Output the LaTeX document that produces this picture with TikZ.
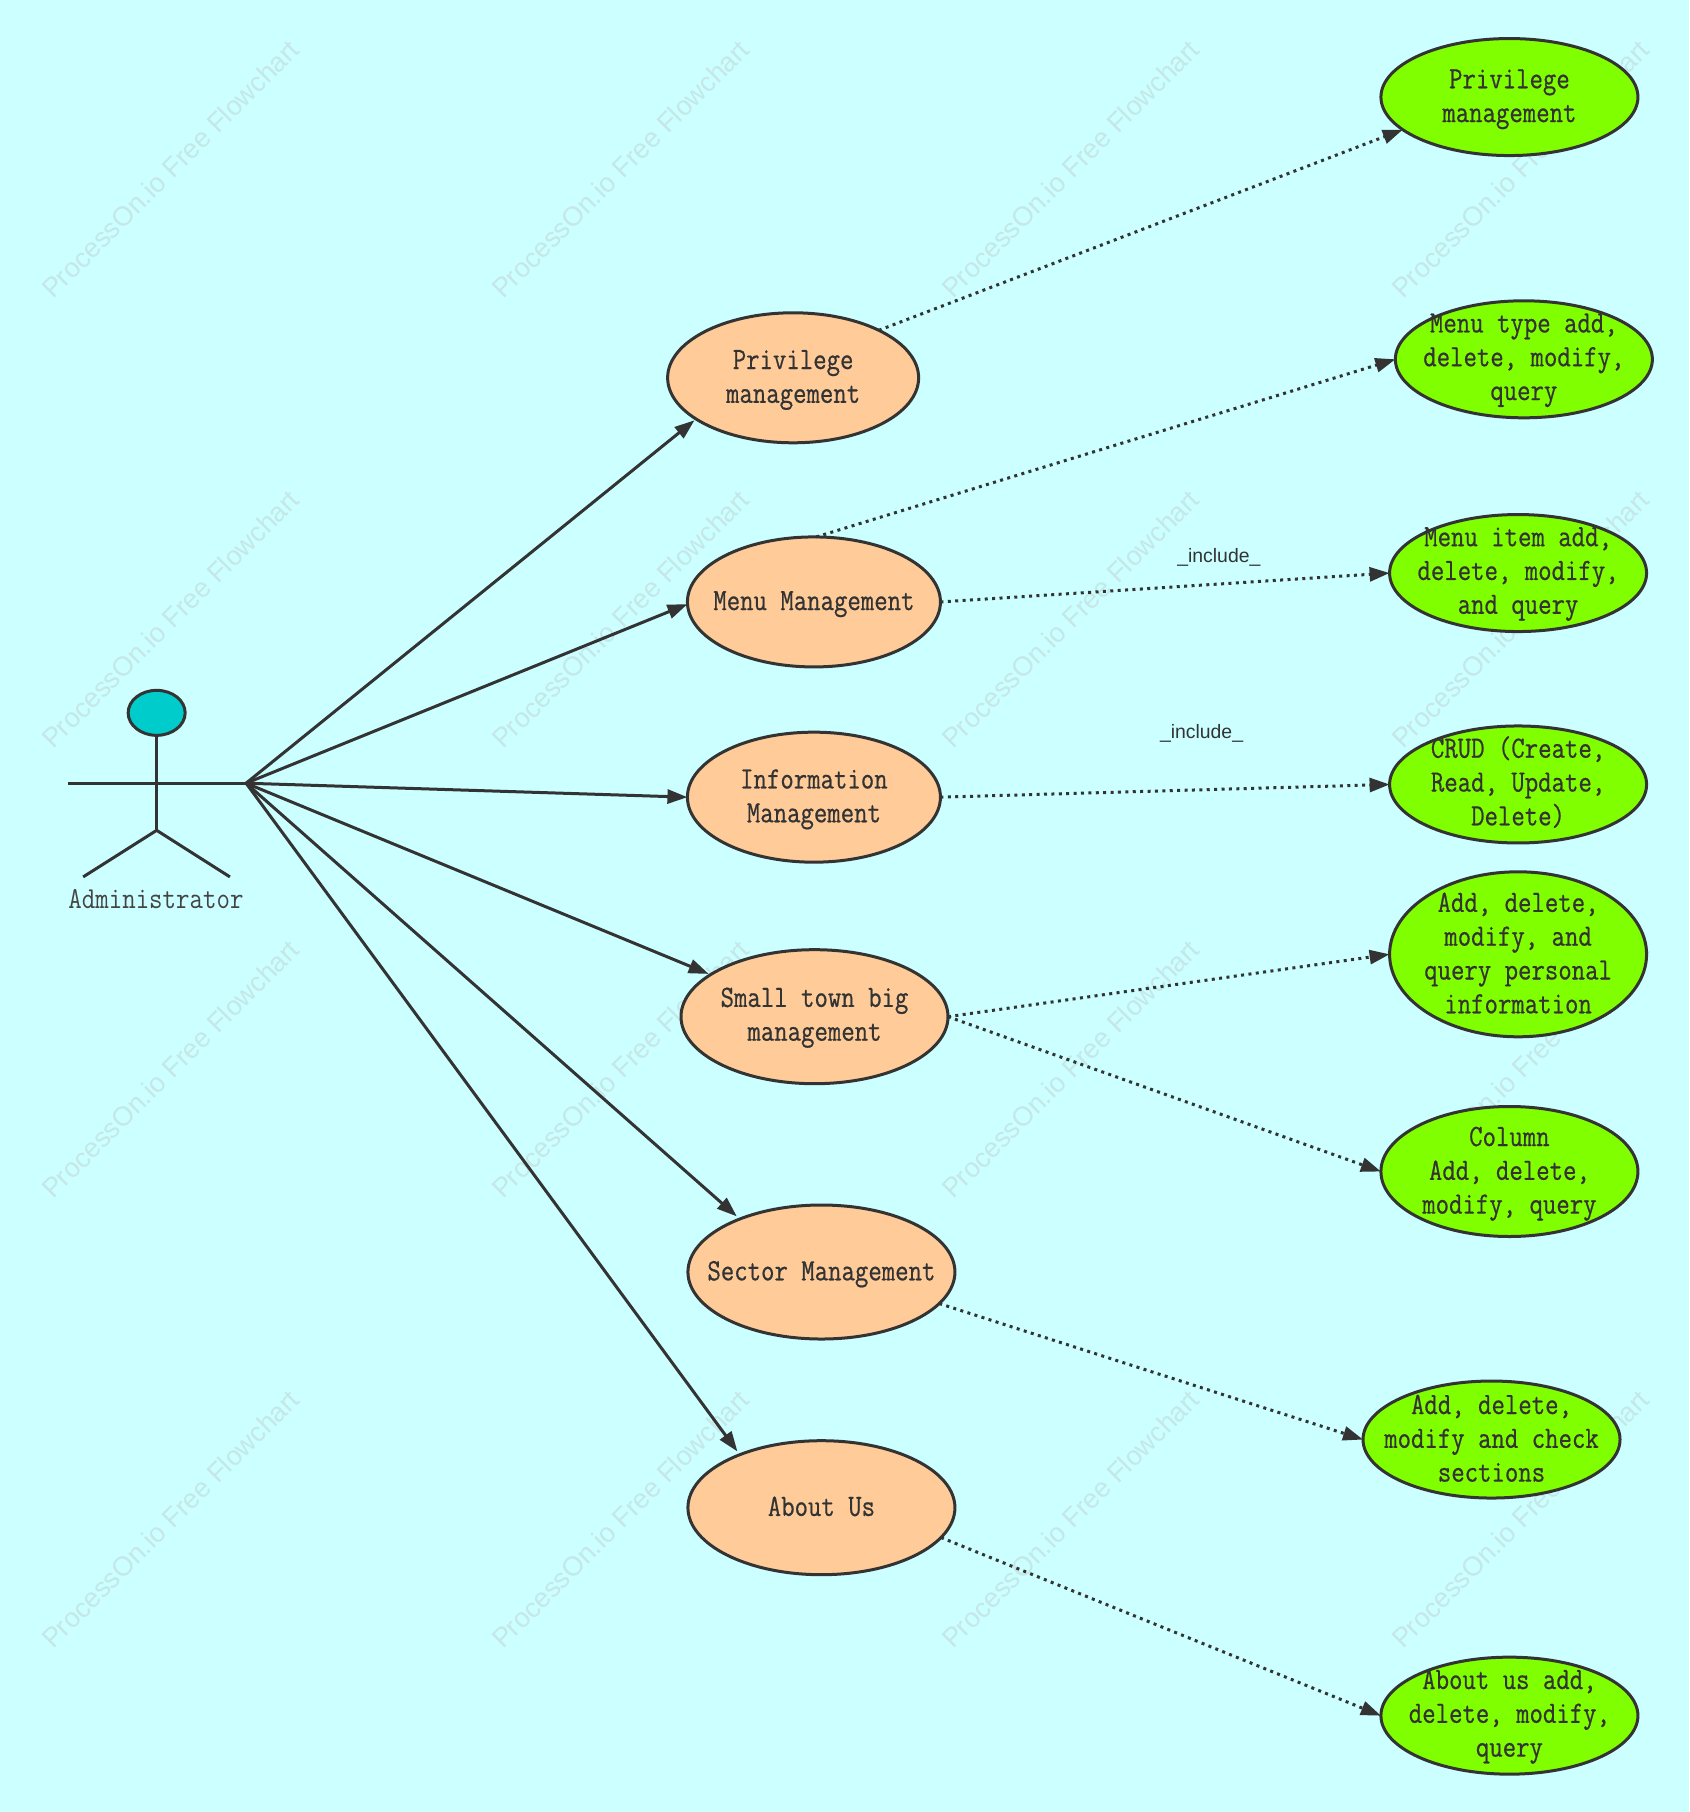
\documentclass[tikz,border=0pt]{standalone}
\usepackage{fontspec}
\usetikzlibrary{arrows.meta,shapes.geometric}
\setmainfont{Liberation Sans}
\newfontfamily\usecasefont[FakeStretch=0.84,FakeBold=0.6]{Latin Modern Mono}
\newfontfamily\actorfont[FakeStretch=0.86]{Latin Modern Mono}
\definecolor{bgc}{HTML}{CCFFFF}
\definecolor{wmc}{HTML}{C5E7E8}
\definecolor{ink}{HTML}{333333}
\definecolor{actortext}{HTML}{444444}
\definecolor{orangec}{HTML}{FFCC99}
\definecolor{greenc}{HTML}{80FF00}
\definecolor{headc}{HTML}{00CCCC}
\tikzset{
  txt/.style={text=ink,align=center,inner sep=0pt,yshift=-1pt,font=\usecasefont\fontsize{31}{33.8}\selectfont},
  usecase/.style={ellipse,draw=ink,line width=3pt,inner sep=0pt,outer sep=0pt},
  orangecase/.style={usecase,fill=orangec,minimum width=251pt,minimum height=130pt},
  orangebig/.style={usecase,fill=orangec,minimum width=267pt,minimum height=134pt},
  greencase/.style={usecase,fill=greenc,minimum width=257pt,minimum height=117pt},
  case/.style 2 args={label={[txt,yshift=#1]center:{#2}}},
  solidedge/.style={draw=ink,line width=3pt,-{Triangle[length=20pt,width=14pt]}},
  dotedge/.style={draw=ink,line width=3pt,dash pattern=on 3pt off 4.4pt,-{Triangle[length=20pt,width=14pt]}},
  limb/.style={draw=ink,line width=3pt},
  edgelabel/.style={text=ink,inner sep=0pt,font=\fontsize{19.4}{22}\selectfont},
  watermark/.style={text=wmc,inner sep=0pt,rotate=45,font=\fontsize{27.1}{30}\selectfont}
}
\begin{document}
\begin{tikzpicture}[x=1.1553pt,y=-1.1553pt]
\fill[bgc] (0,0) rectangle (1462,1568.4);
\useasboundingbox (0,0) rectangle (1462,1568.4);
% watermarks
\foreach \i in {0,1,2,3}{\foreach \j in {0,1,2,3}{
  \node[watermark] (wm\i\j) at ({147.5+389.5*\i},{146.3+389.5*\j}) {ProcessOn.io Free Flowchart};
}}
% actor
\node[ellipse,draw=ink,line width=3pt,fill=headc,inner sep=0pt,outer sep=0pt,minimum width=57pt,minimum height=45pt] (head) at (135.6,617) {};
\coordinate (handL) at (59,677.9);
\coordinate (handR) at (213,677.9);
\coordinate (neck) at (135.6,677.9);
\coordinate (hip) at (135.6,718.7);
\coordinate (footL) at (72,759);
\coordinate (footR) at (199,759);
\draw[limb] (handL) -- (handR);
\draw[limb] (head) -- (hip);
\draw[limb] (footL) -- (hip) -- (footR);
\node[text=actortext,inner sep=0pt,font=\actorfont\fontsize{30.4}{33}\selectfont] (admin) at (135,778.5) {Administrator};
% middle use cases
\node[orangecase,case={-1.2pt}{Privilege\\management}] (p) at (686.5,327) {};
\node[orangecase,minimum width=253pt,case={-1.2pt}{Menu Management}] (m) at (704.5,521) {};
\node[orangecase,minimum width=253pt,case={-1.2pt}{Information\\Management}] (i) at (704.5,690) {};
\node[orangebig,case={0pt}{Small town big\\management}] (s) at (705,880) {};
\node[orangebig,case={-1.2pt}{Sector Management}] (c) at (711,1101) {};
\node[orangebig,case={2.3pt}{About Us}] (a) at (711,1305) {};
% right use cases
\node[greencase,case={-1.2pt}{Privilege\\management}] (g1) at (1306.5,84) {};
\node[greencase,case={0pt}{Menu type add,\\delete, modify,\\query}] (g2) at (1319,311) {};
\node[greencase,case={0pt}{Menu item add,\\delete, modify,\\and query}] (g3) at (1314,496) {};
\node[greencase,case={3.4pt}{CRUD (Create,\\Read, Update,\\Delete)}] (g4) at (1314,679) {};
\node[greencase,minimum height=165pt,case={2.3pt}{Add, delete,\\modify, and\\query personal\\information}] (g5) at (1314,826) {};
\node[greencase,minimum height=130pt,case={-1.2pt}{Column\\Add, delete,\\modify, query}] (g6) at (1306.5,1014) {};
\node[greencase,case={2.3pt}{Add, delete,\\modify and check\\sections}] (g7) at (1291,1246) {};
\node[greencase,case={0pt}{About us add,\\delete, modify,\\query}] (g8) at (1306.5,1485) {};
% actor edges
\draw[solidedge,shorten >=2pt] (handR) -- (p.203.8);
\draw[solidedge] (handR) -- (m.181);
\draw[solidedge] (handR) -- (i.180);
\draw[solidedge,shorten >=2pt] (handR) -- (s.158.5);
\draw[solidedge,shorten >=4pt] (handR) -- (c.147.6);
\draw[solidedge,shorten >=4pt] (handR) -- (a.147.6);
% include edges
\draw[dotedge] (p.29) -- (g1.197.4);
\draw[dotedge] (m.88) -- (g2.180);
\draw[dotedge] (m.0) -- (g3.180);
\draw[dotedge] (i.0) -- (g4.180);
\draw[dotedge] (s.0) -- (g5.180);
\draw[dotedge] (s.0) -- (g6.180);
\draw[dotedge] (c.-15) -- (g7.180);
\draw[dotedge] (a.-14) -- (g8.180);
\node[edgelabel] (l1) at (1055,482.5) {\_include\_};
\node[edgelabel] (l2) at (1040,634.5) {\_include\_};
\end{tikzpicture}
\end{document}
